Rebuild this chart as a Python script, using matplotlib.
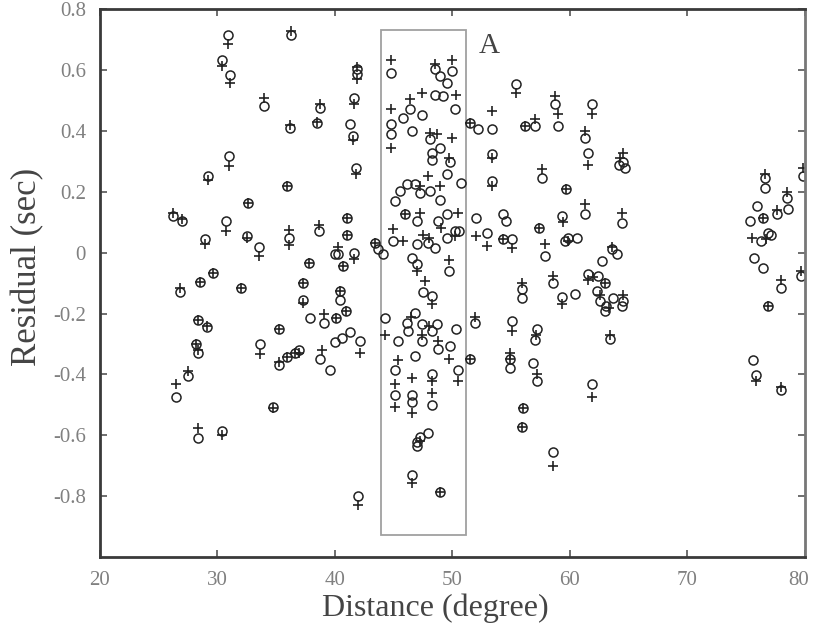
import matplotlib
matplotlib.use("Agg")
import matplotlib.pyplot as plt
import matplotlib.transforms as mtransforms
from matplotlib.patches import Rectangle
from matplotlib.ticker import FuncFormatter
import numpy as np

plt.rcParams['font.family'] = ['Liberation Serif', 'DejaVu Serif']
plt.rcParams['axes.unicode_minus'] = False

# open circles (distance in degree, residual in sec)
circ_x = [26.2, 27.0, 26.8, 26.5, 27.5, 28.2, 28.3, 28.3, 29.1, 28.3, 30.4, 28.5, 29.6, 28.9,
          29.2, 30.7, 31.0, 30.4, 31.1, 30.9, 32.0, 32.6, 32.5, 33.5, 34.0, 33.6, 34.7, 35.2,
          35.2, 35.9, 36.6, 35.9, 36.1, 36.2, 36.3,
          38.7, 38.5, 41.9, 41.9, 41.6, 41.3, 41.5, 41.8, 38.6, 41.0, 41.0, 40.3, 41.6, 40.7,
          37.8, 43.4, 43.7, 44.1, 37.3, 37.3, 40.4, 40.4, 37.9, 39.1, 40.1, 40.9, 41.3, 42.1,
          40.0, 40.6, 38.7, 39.6, 36.9, 42.0, 40.0,
          44.8, 48.5, 50.0, 48.9, 49.5, 48.5, 49.2, 46.4, 45.8, 47.4, 50.2, 44.8, 44.8, 46.6,
          48.1, 48.9, 48.3, 48.3, 49.8, 49.5, 50.7, 45.1, 45.5, 46.1, 46.8, 47.2, 48.1, 48.9,
          46.0, 47.0, 48.8, 49.5, 44.9, 47.0, 47.9, 48.5, 49.5, 50.2, 50.6, 46.6, 47.0, 49.7,
          47.5, 48.3, 44.3, 45.4, 46.2, 46.1, 46.8, 47.4, 47.4, 48.3, 48.7, 48.8, 49.8, 50.3,
          46.8, 45.1, 45.1, 46.6, 46.6, 48.3, 48.3, 50.5, 47.2, 47.0, 47.0, 47.9, 46.6, 48.9,
          51.5, 51.9, 55.4, 53.4, 51.5, 52.2, 53.4, 53.4, 52.0, 54.3, 54.6, 52.9, 54.3, 55.1,
          58.7, 56.2, 57.0, 59.0, 61.9, 61.3, 61.5, 64.2, 64.7, 64.5, 57.6, 59.7, 61.3, 59.3,
          64.4, 57.4, 59.8, 60.6, 59.6, 57.9, 63.6, 64.0, 62.7, 61.5, 62.4, 63.0, 62.3, 63.7,
          64.5, 63.1, 64.4, 58.6, 59.3, 60.4, 55.9, 55.9, 55.1, 57.2, 57.0, 54.9, 54.9, 56.9,
          57.2, 56.0, 55.9, 63.4, 61.9, 58.6, 63.0, 62.6,
          76.6, 76.6, 79.8, 78.6, 78.5, 77.6, 75.9, 75.3, 76.4, 76.3, 76.9, 75.7, 76.4, 76.9,
          78.0, 79.7, 75.6, 75.8, 78.0, 77.1]
circ_y = [0.12, 0.105, -0.13, -0.475, -0.405, -0.30, -0.33, -0.22, -0.243, -0.61, -0.587, -0.095, -0.065, 0.046,
          0.252, 0.105, 0.318, 0.633, 0.584, 0.715, -0.115, 0.164, 0.056, 0.02, 0.482, -0.30, -0.508, -0.25,
          -0.37, -0.343, -0.33, 0.22, 0.05, 0.41, 0.715,
          0.475, 0.427, 0.603, 0.587, 0.508, 0.423, 0.384, 0.279, 0.072, 0.115, 0.059, -0.003, 0.0, -0.043,
          -0.033, 0.033, 0.013, -0.003, -0.10, -0.154, -0.125, -0.154, -0.216, -0.23, -0.216, -0.19, -0.262, -0.29,
          -0.295, -0.28, -0.348, -0.385, -0.32, -0.80, -0.003,
          0.59, 0.603, 0.597, 0.58, 0.557, 0.52, 0.515, 0.472, 0.443, 0.452, 0.472, 0.423, 0.39, 0.40,
          0.374, 0.344, 0.328, 0.305, 0.30, 0.26, 0.23, 0.17, 0.203, 0.226, 0.226, 0.197, 0.203, 0.174,
          0.128, 0.105, 0.105, 0.128, 0.039, 0.03, 0.033, 0.016, 0.05, 0.072, 0.072, -0.016, -0.036, -0.06,
          -0.128, -0.141, -0.213, -0.29, -0.256, -0.23, -0.197, -0.233, -0.29, -0.256, -0.233, -0.315, -0.305, -0.25,
          -0.338, -0.387, -0.469, -0.469, -0.49, -0.397, -0.50, -0.387, -0.607, -0.623, -0.635, -0.593, -0.731, -0.787,
          -0.35, -0.23, 0.555, 0.407, 0.427, 0.407, 0.325, 0.236, 0.115, 0.128, 0.105, 0.066, 0.046, 0.046,
          0.489, 0.417, 0.417, 0.417, 0.49, 0.377, 0.328, 0.29, 0.28, 0.30, 0.246, 0.21, 0.128, 0.12,
          0.098, 0.082, 0.05, 0.05, 0.04, -0.01, 0.013, -0.003, -0.026, -0.07, -0.075, -0.098, -0.125, -0.15,
          -0.157, -0.174, -0.174, -0.098, -0.147, -0.135, -0.118, -0.15, -0.223, -0.25, -0.288, -0.348, -0.38, -0.364,
          -0.42, -0.511, -0.573, -0.282, -0.43, -0.656, -0.19, -0.16,
          0.246, 0.213, 0.252, 0.144, 0.18, 0.128, 0.154, 0.105, 0.115, 0.039, 0.066, -0.016, -0.049, -0.174,
          -0.115, -0.075, -0.354, -0.403, -0.452, 0.06]

# plus markers
plus_x = [26.2, 27.0, 26.8, 26.5, 27.5, 28.2, 28.3, 29.1, 28.3, 30.4, 28.5, 29.6, 28.9, 29.2,
          30.7, 31.0, 30.4, 31.1, 30.9, 32.0, 32.6, 32.5, 33.5, 34.0, 33.6, 34.7, 35.2, 35.2,
          35.9, 36.6, 35.9, 36.1, 36.1, 36.2, 36.3, 28.3,
          38.7, 41.9, 41.9, 41.6, 41.5, 41.8, 38.6, 41.0, 41.0, 40.3, 41.6, 40.7, 37.8, 43.4,
          37.3, 37.3, 40.4, 39.1, 40.1, 38.9, 42.1, 36.9, 42.0, 40.9, 38.5,
          44.8, 48.5, 50.0, 47.4, 50.3, 46.4, 44.8, 44.8, 48.1, 48.7, 50.0, 49.7, 47.9, 47.2,
          48.9, 46.0, 47.2, 50.5, 44.9, 45.8, 47.5, 48.0, 49.0, 50.2, 47.0, 49.7, 47.7, 48.3,
          44.3, 46.5, 48.0, 49.7, 45.4, 45.1, 45.1, 46.6, 46.6, 48.3, 48.3, 50.5, 47.2, 46.6,
          48.9, 47.4, 48.8,
          51.9, 51.5, 55.4, 53.4, 51.5, 53.4, 53.4, 52.0, 52.9, 54.3, 55.1, 58.7, 56.2, 57.0,
          59.0, 61.9, 61.3, 61.5, 64.5, 64.3, 57.6, 59.7, 61.3, 59.4, 64.4, 57.4, 59.8, 57.9,
          63.6, 61.5, 63.0, 62.6, 63.3, 64.5, 58.6, 59.3, 55.9, 55.1, 57.1, 54.9, 54.9, 57.2,
          56.0, 55.9, 63.4, 61.9, 58.6, 62.0,
          76.6, 79.8, 78.5, 76.4, 75.5, 76.7, 76.9, 78.0, 79.7, 75.8, 78.0, 77.6]
plus_y = [0.13, 0.11, -0.115, -0.43, -0.39, -0.30, -0.22, -0.24, -0.575, -0.60, -0.095, -0.065, 0.03, 0.24,
          0.072, 0.285, 0.615, 0.557, 0.685, -0.115, 0.164, 0.05, -0.01, 0.508, -0.334, -0.51, -0.25, -0.36,
          -0.343, -0.33, 0.22, 0.075, 0.026, 0.42, 0.73, -0.32,
          0.49, 0.57, 0.61, 0.49, 0.37, 0.26, 0.092, 0.115, 0.059, 0.02, -0.02, -0.043, -0.033, 0.033,
          -0.10, -0.165, -0.125, -0.20, -0.216, -0.32, -0.328, -0.33, -0.83, -0.19, 0.43,
          0.635, 0.62, 0.633, 0.525, 0.52, 0.505, 0.472, 0.344, 0.394, 0.39, 0.377, 0.31, 0.252, 0.22,
          0.22, 0.128, 0.13, 0.131, 0.079, 0.039, 0.06, 0.05, 0.08, 0.055, -0.06, -0.025, -0.092, -0.17,
          -0.27, -0.21, -0.24, -0.348, -0.354, -0.43, -0.508, -0.413, -0.528, -0.42, -0.46, -0.42, -0.62, -0.757,
          -0.787, -0.27, -0.29,
          -0.21, -0.35, 0.525, 0.466, 0.427, 0.31, 0.22, 0.056, 0.023, 0.046, 0.016, 0.515, 0.417, 0.44,
          0.455, 0.455, 0.40, 0.29, 0.328, 0.31, 0.275, 0.21, 0.16, 0.10, 0.13, 0.082, 0.04, 0.03,
          0.02, -0.09, -0.098, -0.14, -0.18, -0.14, -0.075, -0.17, -0.10, -0.256, -0.27, -0.33, -0.348, -0.40,
          -0.511, -0.573, -0.27, -0.475, -0.70, -0.08,
          0.26, 0.28, 0.20, 0.115, 0.049, 0.045, -0.174, -0.09, -0.06, -0.42, -0.44, 0.14]

x_ticks = [20, 30, 40, 50, 60, 70, 80]
y_ticks = [-0.8, -0.6, -0.4, -0.2, 0, 0.2, 0.4, 0.6, 0.8]

fig = plt.figure(figsize=(8.13, 6.3), dpi=100)
ax = fig.add_axes([0.123, 0.116, 0.867, 0.869])

ax.plot(circ_x, circ_y, 'o', mfc='none', mec='#222222', ms=6.5, mew=1.1)
ax.plot(plus_x, plus_y, '+', color='#222222', ms=7, mew=1.2)

# window A
ax.add_patch(Rectangle((43.9, -0.928), 7.25, 1.662, fill=False, ec='#a0a0a0', lw=1.3))
ax.text(52.2, 0.68, 'A', fontsize=21, color='#444444', va='center', ha='left')

ax.set_xlim(20, 80)
ax.set_ylim(-1.0, 0.8)
ax.set_xticks(x_ticks)
ax.set_yticks(y_ticks)
ax.yaxis.set_major_formatter(FuncFormatter(lambda v, p: '0' if abs(v) < 1e-9 else '%.1f' % v))
ax.tick_params(direction='in', length=5, width=1.2, top=True, right=True,
               labelsize=15, labelcolor='#808080', color='#555555', pad=10)
for s in ['left', 'bottom', 'top']:
    ax.spines[s].set_linewidth(2)
    ax.spines[s].set_color('#3a3a3a')
ax.spines['right'].set_linewidth(2)
ax.spines['right'].set_color('#777777')

# keep the last x label inside the figure
last = ax.get_xticklabels()[-1]
last.set_transform(last.get_transform() + mtransforms.ScaledTranslation(-6 / 100, 0, fig.dpi_scale_trans))

ax.set_xlabel('Distance (degree)', fontsize=23, color='#444444')
ax.set_ylabel('Residual (sec)', fontsize=25, color='#444444')
ax.xaxis.set_label_coords(0.475, -0.093)
ax.yaxis.set_label_coords(-0.102, 0.53)
for lab in (ax.xaxis.label, ax.yaxis.label):
    lab.set_va('center')

fig.savefig('out.png', dpi=100)
